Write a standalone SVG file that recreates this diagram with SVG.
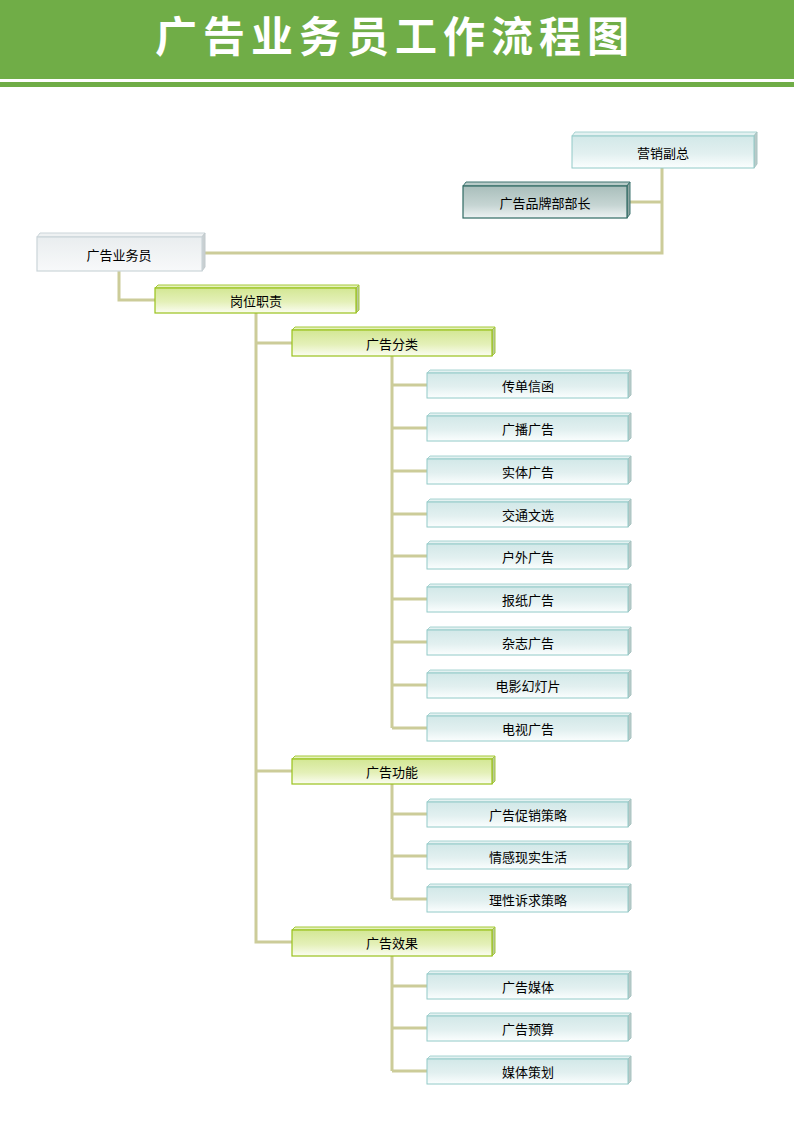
<svg xmlns="http://www.w3.org/2000/svg" width="794" height="1123" viewBox="0 0 794 1123">
<defs>
<linearGradient id="gLeaf" x1="0" y1="0" x2="0" y2="1"><stop offset="0" stop-color="#d2e8e8"/><stop offset="0.55" stop-color="#e2f0f0"/><stop offset="1" stop-color="#fbfefe"/></linearGradient>
<linearGradient id="gGrp" x1="0" y1="0" x2="0" y2="1"><stop offset="0" stop-color="#d3e794"/><stop offset="0.55" stop-color="#e4f0b8"/><stop offset="1" stop-color="#fbfdf2"/></linearGradient>
<linearGradient id="gDark" x1="0" y1="0" x2="0" y2="1"><stop offset="0" stop-color="#a9bebb"/><stop offset="0.6" stop-color="#c6d5d3"/><stop offset="1" stop-color="#eef3f3"/></linearGradient>
<linearGradient id="gGrey" x1="0" y1="0" x2="0" y2="1"><stop offset="0" stop-color="#e9edef"/><stop offset="1" stop-color="#f8f9fa"/></linearGradient>
</defs>
<style>
.t{font-family:"Noto Sans CJK SC","Noto Sans",sans-serif;font-size:13px;fill:#000;text-anchor:middle;dominant-baseline:central}
.leaf .f{fill:url(#gLeaf);stroke:#92cac8;stroke-width:1}
.leaf .tp{fill:#e3f1f1;stroke:#a8d4d2;stroke-width:1}
.leaf .sd{fill:#b9c9c8;stroke:#a8c4c2;stroke-width:1}
.grp .f{fill:url(#gGrp);stroke:#99c21c;stroke-width:1.2}
.grp .tp{fill:#e6f2bd;stroke:#a5c93a;stroke-width:1}
.grp .sd{fill:#b8c89a;stroke:#a5c93a;stroke-width:1}
.dark .f{fill:url(#gDark);stroke:#2f6a63;stroke-width:1.2}
.dark .tp{fill:#b8cbc8;stroke:#3f7570;stroke-width:1}
.dark .sd{fill:#8ea6a2;stroke:#3f7570;stroke-width:1}
.grey .f{fill:url(#gGrey);stroke:#cbd5d9;stroke-width:1.2}
.grey .tp{fill:#eef1f2;stroke:#cbd5d9;stroke-width:1}
.grey .sd{fill:#c9cfd2;stroke:#c1cacd;stroke-width:1}
.c{fill:none;stroke:#cccc99;stroke-width:3}
</style>
<rect x="0" y="0" width="794" height="79" fill="#70ad47"/>
<rect x="0" y="82" width="794" height="5" fill="#70ad47"/>
<text x="392" y="52" font-family="'Noto Sans CJK SC',sans-serif" font-size="42" font-weight="bold" fill="#ffffff" text-anchor="middle" textLength="474" lengthAdjust="spacing">广告业务员工作流程图</text>

<g id="connectors">
<path class="c" d="M662,168 V253 H205"/>
<path class="c" d="M630,202 H662"/>
<path class="c" d="M119,270 V300 H155"/>
<path class="c" d="M256,313 V942 H292 M256,343 H292 M256,771 H292"/>
<path class="c" d="M392,356 V728 M392,385 H427 M392,428 H427 M392,471 H427 M392,514 H427 M392,556 H427 M392,599 H427 M392,642 H427 M392,685 H427 M392,728 H427"/>
<path class="c" d="M392,784 V899 M392,814 H427 M392,856 H427 M392,899 H427"/>
<path class="c" d="M392,956 V1071 M392,986 H427 M392,1028 H427 M392,1071 H427"/>
</g>

<g id="n-yingxiao" class="leaf">
<polygon class="tp" points="572,136 575,132 757,132 754,136"/>
<polygon class="sd" points="754,136 757,132 757,164 754,168"/>
<rect class="f" x="572" y="136" width="182" height="32"/>
<text class="t" x="663" y="152">营销副总</text>
</g>
<g id="n-pinpai" class="dark">
<polygon class="tp" points="463,186 466,182 630,182 627,186"/>
<polygon class="sd" points="627,186 630,182 630,214 627,218"/>
<rect class="f" x="463" y="186" width="164" height="32"/>
<text class="t" x="545" y="202">广告品牌部部长</text>
</g>
<g id="n-yewuyuan" class="grey">
<polygon class="tp" points="37,237 40,233 205,233 202,237"/>
<polygon class="sd" points="202,237 205,233 205,267 202,271"/>
<rect class="f" x="37" y="237" width="165" height="34"/>
<text class="t" x="119" y="254">广告业务员</text>
</g>
<g id="n-gangwei" class="grp">
<polygon class="tp" points="155,288 158,285 359,285 356,288"/>
<polygon class="sd" points="356,288 359,285 359,310 356,313"/>
<rect class="f" x="155" y="288" width="201" height="25"/>
<text class="t" x="256" y="300">岗位职责</text>
</g>
<g id="n-fenlei" class="grp">
<polygon class="tp" points="292,330 295,327 495,327 492,330"/>
<polygon class="sd" points="492,330 495,327 495,353 492,356"/>
<rect class="f" x="292" y="330" width="200" height="26"/>
<text class="t" x="392" y="343">广告分类</text>
</g>
<g id="n-gongneng" class="grp">
<polygon class="tp" points="292,759 295,756 495,756 492,759"/>
<polygon class="sd" points="492,759 495,756 495,781 492,784"/>
<rect class="f" x="292" y="759" width="200" height="25"/>
<text class="t" x="392" y="771">广告功能</text>
</g>
<g id="n-xiaoguo" class="grp">
<polygon class="tp" points="292,930 295,927 495,927 492,930"/>
<polygon class="sd" points="492,930 495,927 495,953 492,956"/>
<rect class="f" x="292" y="930" width="200" height="26"/>
<text class="t" x="392" y="942">广告效果</text>
</g>

<g id="n-l1" class="leaf"><polygon class="tp" points="427,373 430,370 631,370 628,373"/><polygon class="sd" points="628,373 631,370 631,395 628,398"/><rect class="f" x="427" y="373" width="201" height="25"/><text class="t" x="528" y="385">传单信函</text></g>
<g id="n-l2" class="leaf"><polygon class="tp" points="427,416 430,413 631,413 628,416"/><polygon class="sd" points="628,416 631,413 631,438 628,441"/><rect class="f" x="427" y="416" width="201" height="25"/><text class="t" x="528" y="428">广播广告</text></g>
<g id="n-l3" class="leaf"><polygon class="tp" points="427,459 430,456 631,456 628,459"/><polygon class="sd" points="628,459 631,456 631,481 628,484"/><rect class="f" x="427" y="459" width="201" height="25"/><text class="t" x="528" y="471">实体广告</text></g>
<g id="n-l4" class="leaf"><polygon class="tp" points="427,502 430,499 631,499 628,502"/><polygon class="sd" points="628,502 631,499 631,524 628,527"/><rect class="f" x="427" y="502" width="201" height="25"/><text class="t" x="528" y="514">交通文选</text></g>
<g id="n-l5" class="leaf"><polygon class="tp" points="427,544 430,541 631,541 628,544"/><polygon class="sd" points="628,544 631,541 631,566 628,569"/><rect class="f" x="427" y="544" width="201" height="25"/><text class="t" x="528" y="556">户外广告</text></g>
<g id="n-l6" class="leaf"><polygon class="tp" points="427,587 430,584 631,584 628,587"/><polygon class="sd" points="628,587 631,584 631,609 628,612"/><rect class="f" x="427" y="587" width="201" height="25"/><text class="t" x="528" y="599">报纸广告</text></g>
<g id="n-l7" class="leaf"><polygon class="tp" points="427,630 430,627 631,627 628,630"/><polygon class="sd" points="628,630 631,627 631,652 628,655"/><rect class="f" x="427" y="630" width="201" height="25"/><text class="t" x="528" y="642">杂志广告</text></g>
<g id="n-l8" class="leaf"><polygon class="tp" points="427,673 430,670 631,670 628,673"/><polygon class="sd" points="628,673 631,670 631,695 628,698"/><rect class="f" x="427" y="673" width="201" height="25"/><text class="t" x="528" y="685">电影幻灯片</text></g>
<g id="n-l9" class="leaf"><polygon class="tp" points="427,716 430,713 631,713 628,716"/><polygon class="sd" points="628,716 631,713 631,738 628,741"/><rect class="f" x="427" y="716" width="201" height="25"/><text class="t" x="528" y="728">电视广告</text></g>

<g id="n-f1" class="leaf"><polygon class="tp" points="427,802 430,799 631,799 628,802"/><polygon class="sd" points="628,802 631,799 631,824 628,827"/><rect class="f" x="427" y="802" width="201" height="25"/><text class="t" x="528" y="814">广告促销策略</text></g>
<g id="n-f2" class="leaf"><polygon class="tp" points="427,844 430,841 631,841 628,844"/><polygon class="sd" points="628,844 631,841 631,866 628,869"/><rect class="f" x="427" y="844" width="201" height="25"/><text class="t" x="528" y="856">情感现实生活</text></g>
<g id="n-f3" class="leaf"><polygon class="tp" points="427,887 430,884 631,884 628,887"/><polygon class="sd" points="628,887 631,884 631,909 628,912"/><rect class="f" x="427" y="887" width="201" height="25"/><text class="t" x="528" y="899">理性诉求策略</text></g>

<g id="n-e1" class="leaf"><polygon class="tp" points="427,974 430,971 631,971 628,974"/><polygon class="sd" points="628,974 631,971 631,996 628,999"/><rect class="f" x="427" y="974" width="201" height="25"/><text class="t" x="528" y="986">广告媒体</text></g>
<g id="n-e2" class="leaf"><polygon class="tp" points="427,1016 430,1013 631,1013 628,1016"/><polygon class="sd" points="628,1016 631,1013 631,1038 628,1041"/><rect class="f" x="427" y="1016" width="201" height="25"/><text class="t" x="528" y="1028">广告预算</text></g>
<g id="n-e3" class="leaf"><polygon class="tp" points="427,1059 430,1056 631,1056 628,1059"/><polygon class="sd" points="628,1059 631,1056 631,1081 628,1084"/><rect class="f" x="427" y="1059" width="201" height="25"/><text class="t" x="528" y="1071">媒体策划</text></g>
</svg>
